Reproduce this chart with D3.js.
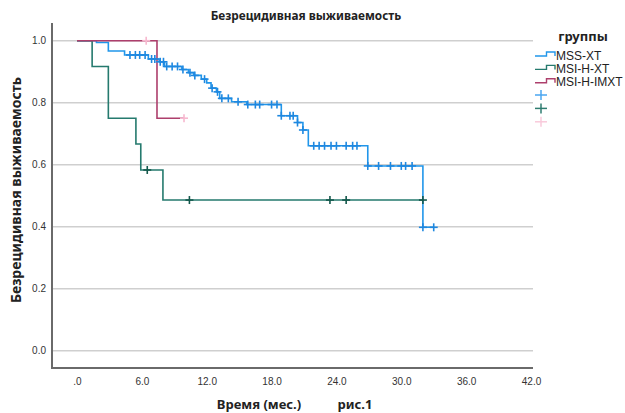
<!DOCTYPE html>
<html><head><meta charset="utf-8">
<script src="https://cdn.jsdelivr.net/npm/d3@7"></script>
<style>body{margin:0;background:#fff}svg{display:block}</style>
</head><body><svg id="c" width="625" height="413"></svg>
<script>
// ---- data ----
const xTicks = [0, 6, 12, 18, 24, 30, 36, 42];
const yTicks = [0, 0.2, 0.4, 0.6, 0.8, 1.0];
const groups = ["MSS-XT", "MSI-H-XT", "MSI-H-IMXT"];

const mssTimes = [0, 1.8, 2.9, 4.4, 6.6, 7.6, 8.1, 9.7, 10.3, 10.8, 11.5, 12.0, 12.4, 12.9, 13.2, 14.3, 15.7, 18.9, 20.4, 20.9, 21.4, 26.9, 32.0];
const mssSurv  = [1.0, 0.994, 0.967, 0.954, 0.941, 0.932, 0.917, 0.907, 0.897, 0.888, 0.876, 0.864, 0.847, 0.835, 0.814, 0.803, 0.794, 0.758, 0.736, 0.712, 0.661, 0.596, 0.398];
const mssEnd = 33.0;
const mssCensor = [4.9, 5.4, 5.8, 6.3, 6.9, 7.2, 7.7, 8.0, 8.3, 8.8, 9.3, 9.8, 10.45, 10.9, 11.8, 12.5, 13.0, 13.4, 14.0, 14.9, 15.8, 16.5, 16.9, 18.0, 18.5, 18.9, 19.7, 20.0, 20.4, 20.9, 21.9, 22.4, 22.9, 23.5, 24.0, 24.9, 25.5, 25.9, 26.9, 27.9, 29.0, 30.0, 30.4, 31.0, 32.0, 33.0];

const hxtTimes = [0, 1.4, 2.9, 5.45, 5.9, 7.95];
const hxtSurv  = [1.0, 0.917, 0.75, 0.667, 0.583, 0.486];
const hxtEnd = 32.0;
const hxtCensor = [6.5, 10.4, 23.4, 24.9, 32.0];

const imxTimes = [0, 7.4];
const imxSurv  = [1.0, 0.75];
const imxEnd = 9.9;
const imxCensor = [6.4, 9.9];

// ---- layout ----
const svg = d3.select("#c");
const x = d3.scaleLinear().domain([0, 42]).range([77, 531]);
const y = d3.scaleLinear().domain([0, 1]).range([350.7, 40.7]);
const axL = 52, axR = 533, axT = 23, axB = 368;
const boldFont = "Noto Sans, DejaVu Sans, sans-serif";

const series = [
  {name: groups[0], t: mssTimes, s: mssSurv, end: mssEnd, c: mssCensor, line: "#2196ea", cens: "#1e88e0", lg: "#4aa6f0"},
  {name: groups[1], t: hxtTimes, s: hxtSurv, end: hxtEnd, c: hxtCensor, line: "#257a6e", cens: "#14584c", lg: "#2f7d70"},
  {name: groups[2], t: imxTimes, s: imxSurv, end: imxEnd, c: imxCensor, line: "#ad3f6c", cens: "#f7b8cf", lg: "#f9cadb"}
];

// gridlines
svg.append("g").selectAll("line").data(yTicks).join("line")
  .attr("x1", axL).attr("x2", axR)
  .attr("y1", d => y(d)).attr("y2", d => y(d))
  .attr("stroke", "#cfcfcf").attr("stroke-width", 1.5);

// axes
const xa = svg.append("g").attr("transform", `translate(0,${axB})`)
  .call(d3.axisBottom(x).tickValues(xTicks).tickSize(0).tickPadding(10)
    .tickFormat(d => d === 0 ? ".0" : d.toFixed(1)));
xa.select(".domain").remove();
xa.selectAll("text").attr("font-family", "Liberation Sans, Arial, sans-serif").attr("font-size", 10).attr("fill", "#333");

const ya = svg.append("g").attr("transform", `translate(${axL},0)`)
  .call(d3.axisLeft(y).tickValues(yTicks).tickSize(0).tickPadding(6)
    .tickFormat(d => d.toFixed(1)));
ya.select(".domain").remove();
ya.selectAll("text").attr("font-family", "Liberation Sans, Arial, sans-serif").attr("font-size", 10).attr("fill", "#333");

svg.append("line").attr("x1", axL).attr("x2", axR).attr("y1", axB).attr("y2", axB).attr("stroke", "#6a6a6a").attr("stroke-width", 2);
svg.append("line").attr("x1", axL).attr("x2", axL).attr("y1", axT).attr("y2", axB + 1).attr("stroke", "#6a6a6a").attr("stroke-width", 2);

// curves
const stepLine = d3.line().x(d => x(d[0])).y(d => y(d[1])).curve(d3.curveStepAfter);
function survAt(sr, t) {
  let v = sr.s[0];
  for (let i = 0; i < sr.t.length; i++) if (sr.t[i] <= t + 1e-9) v = sr.s[i];
  return v;
}
series.forEach(sr => {
  const pts = sr.t.map((t, i) => [t, sr.s[i]]);
  pts.push([sr.end, sr.s[sr.s.length - 1]]);
  svg.append("path").attr("d", stepLine(pts)).attr("fill", "none")
    .attr("stroke", sr.line).attr("stroke-width", 1.6);
});
series.forEach(sr => {
  const g = svg.append("g");
  sr.c.forEach(t => {
    const cx = x(t), cy = y(survAt(sr, t));
    g.append("line").attr("x1", cx - 4).attr("x2", cx + 4).attr("y1", cy).attr("y2", cy)
      .attr("stroke", sr.cens).attr("stroke-width", 1.6);
    g.append("line").attr("x1", cx).attr("x2", cx).attr("y1", cy - 4).attr("y2", cy + 4)
      .attr("stroke", sr.cens).attr("stroke-width", 1.6);
  });
});

// titles
svg.append("text").attr("x", 306).attr("y", 20).attr("text-anchor", "middle")
  .attr("font-family", boldFont).attr("font-weight", "bold").attr("font-size", 11.8)
  .attr("fill", "#222").text("Безрецидивная выживаемость");
svg.append("text").attr("transform", "translate(21,190) rotate(-90)").attr("text-anchor", "middle")
  .attr("font-family", boldFont).attr("font-weight", "bold").attr("font-size", 14)
  .attr("fill", "#222").text("Безрецидивная выживаемость");
svg.append("text").attr("x", 259).attr("y", 409).attr("text-anchor", "middle")
  .attr("font-family", boldFont).attr("font-weight", "bold").attr("font-size", 13)
  .attr("fill", "#222").text("Время (мес.)");
svg.append("text").attr("x", 355).attr("y", 409).attr("text-anchor", "middle")
  .attr("font-family", boldFont).attr("font-weight", "bold").attr("font-size", 13)
  .attr("fill", "#222").text("рис.1");

// legend
const lg = svg.append("g");
lg.append("text").attr("x", 583).attr("y", 41).attr("text-anchor", "middle")
  .attr("font-family", boldFont).attr("font-weight", "bold").attr("font-size", 13)
  .attr("fill", "#222").text("группы");
series.forEach((sr, i) => {
  const yy = 56 + i * 13.4;
  lg.append("path").attr("d", `M535,${yy}H546.5V${yy - 4}H555V${yy}`).attr("fill", "none")
    .attr("stroke", sr.line).attr("stroke-width", 1.4);
  lg.append("text").attr("x", 556).attr("y", yy + 3.5).attr("font-family", "Liberation Sans, Arial, sans-serif")
    .attr("font-size", 12).attr("fill", "#222").text(sr.name);
  const py = 95 + i * 13.4;
  lg.append("line").attr("x1", 535).attr("x2", 547).attr("y1", py).attr("y2", py).attr("stroke", sr.lg).attr("stroke-width", 1.5);
  lg.append("line").attr("x1", 541).attr("x2", 541).attr("y1", py - 5).attr("y2", py + 5).attr("stroke", sr.lg).attr("stroke-width", 1.5);
});
</script></body></html>
